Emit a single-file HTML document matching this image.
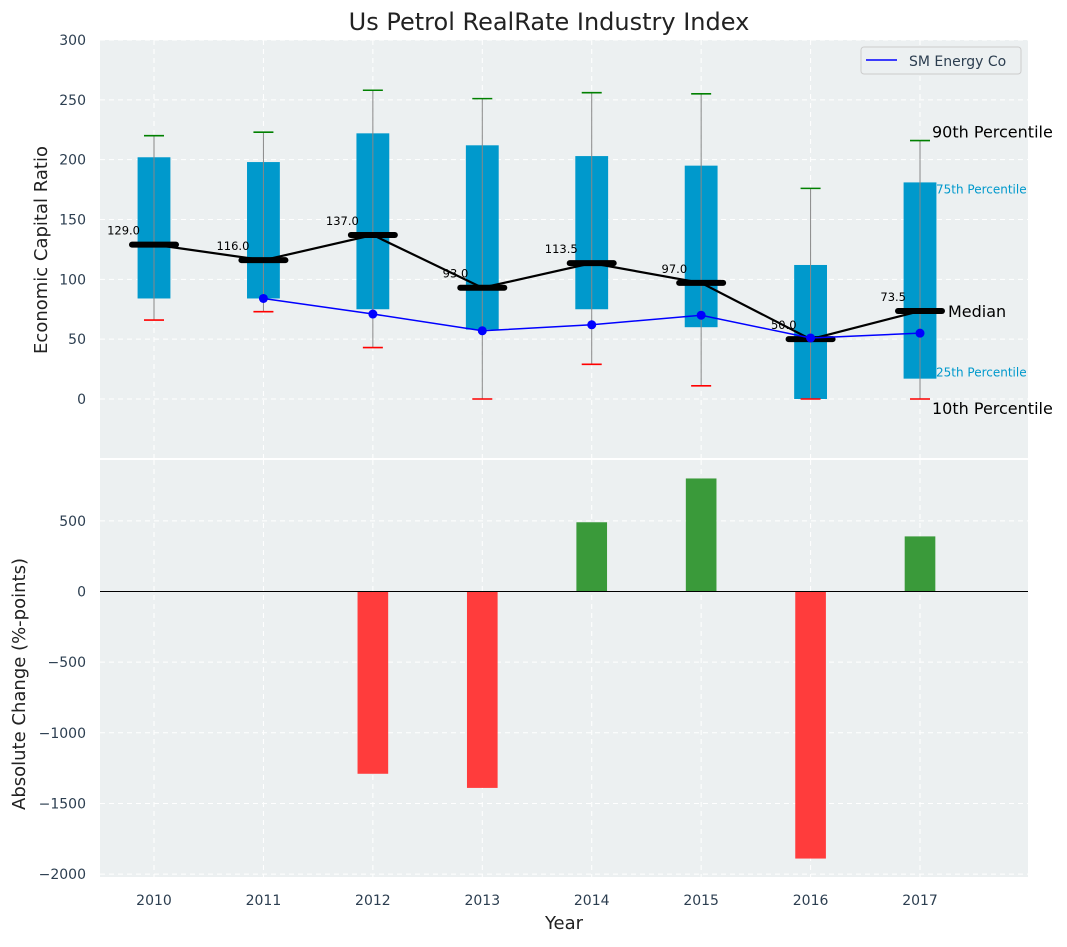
<!DOCTYPE html>
<html><head><meta charset="utf-8"><style>
body{margin:0;background:#fff;font-family:"Liberation Sans","DejaVu Sans",sans-serif;}
svg text{font-family:"DejaVu Sans","Liberation Sans",sans-serif;}
</style></head><body>
<svg id="c" width="1067" height="942" xmlns="http://www.w3.org/2000/svg"></svg>
<script>
const years=['2010','2011','2012','2013','2014','2015','2016','2017'];
const p10=[66,73,43,0,29,11,0,0];
const p25=[84,84,75,58,75,60,0,17];
const p50=[129,116,137,93,113.5,97,50,73.5];
const p75=[202,198,222,212,203,195,112,181];
const p90=[220,223,258,251,256,255,176,216];
const smYears=[1,2,3,4,5,6,7];
const smVals=[84,71,57,62,70,51,55];
const changes=[0,0,-1290,-1390,490,800,-1890,390];
const topTicks=[0,50,100,150,200,250,300];
const botTicks=[-2000,-1500,-1000,-500,0,500];

const svg=document.getElementById('c');const NS='http://www.w3.org/2000/svg';
function el(t,a,txt,parent){const e=document.createElementNS(NS,t);for(const k in a)e.setAttribute(k,a[k]);if(txt!==undefined)e.textContent=txt;(parent||svg).appendChild(e);return e;}
const L=100,R=1028;
const U=109.43;
const X=i=>154+i*U;
const T0=40,T1=458;const YT=v=>399-v*359/300;
const B0=460,B1=877;const YB=v=>591.5-v*0.1413;

let e;
e=el('rect',{x:L,y:T0,width:R-L,height:T1-T0,fill:'#ecf0f1'});
e=el('rect',{x:L,y:B0,width:R-L,height:B1-B0,fill:'#ecf0f1'});
years.forEach((y,i)=>{
  el('line',{x1:X(i),x2:X(i),y1:T0,y2:T1,stroke:'#fff','stroke-dasharray':'5,4','stroke-width':1});
  el('line',{x1:X(i),x2:X(i),y1:B0,y2:B1,stroke:'#fff','stroke-dasharray':'5,4','stroke-width':1});
  e=el('text',{x:X(i),y:905,'text-anchor':'middle','font-size':14,fill:'#2c3e50'},y);
});
topTicks.forEach(v=>{
  el('line',{x1:L,x2:R,y1:YT(v),y2:YT(v),stroke:'#fff','stroke-dasharray':'5,4'});
  e=el('text',{x:86,y:YT(v)+5,'text-anchor':'end','font-size':14,fill:'#2c3e50'},v);
});
botTicks.forEach(v=>{
  el('line',{x1:L,x2:R,y1:YB(v),y2:YB(v),stroke:'#fff','stroke-dasharray':'5,4'});
  e=el('text',{x:86,y:YB(v)+5,'text-anchor':'end','font-size':14,fill:'#2c3e50'},v<0?'\u2212'+(-v):v);
});
const bw=U*0.3;
years.forEach((y,i)=>{
  const x=X(i);
  e=el('rect',{x:x-bw/2,y:YT(p75[i]),width:bw,height:YT(p25[i])-YT(p75[i]),fill:'#0099cc'});
  e=el('line',{x1:x,x2:x,y1:YT(p90[i]),y2:YT(p10[i]),stroke:'#888','stroke-width':1});
  el('line',{x1:x-10,x2:x+10,y1:YT(p90[i]),y2:YT(p90[i]),stroke:'green','stroke-width':1.6});
  el('line',{x1:x-10,x2:x+10,y1:YT(p10[i]),y2:YT(p10[i]),stroke:'red','stroke-width':1.6});
});
e=el('polyline',{points:p50.map((v,i)=>X(i)+','+YT(v)).join(' '),fill:'none',stroke:'#000','stroke-width':2.2});
years.forEach((y,i)=>{
  const x=X(i);
  e=el('line',{x1:x-22,x2:x+22,y1:YT(p50[i]),y2:YT(p50[i]),stroke:'#000','stroke-width':6,'stroke-linecap':'round'});
  e=el('text',{x:x-14,y:YT(p50[i])-10,'text-anchor':'end','font-size':11.5,fill:'#000'},p50[i].toFixed(1));
});
e=el('polyline',{points:smYears.map((j,k)=>X(j)+','+YT(smVals[k])).join(' '),fill:'none',stroke:'blue','stroke-width':1.5});
smYears.forEach((j,k)=>{e=el('circle',{cx:X(j),cy:YT(smVals[k]),r:4.5,fill:'blue'});});
const lx=X(7);
el('text',{x:lx+12,y:YT(p90[7])-3,'font-size':16,fill:'#000'},'90th Percentile');
el('text',{x:lx+16,y:YT(p75[7])+11,'font-size':12,fill:'#0099cc'},'75th Percentile');
el('text',{x:lx+28,y:YT(p50[7])+6,'font-size':16,fill:'#000'},'Median');
el('text',{x:lx+16,y:YT(p25[7])-2,'font-size':12,fill:'#0099cc'},'25th Percentile');
el('text',{x:lx+12,y:YT(p10[7])+15,'font-size':16,fill:'#000'},'10th Percentile');
e=el('rect',{x:861,y:47,width:160,height:27,fill:'#ecf0f1',stroke:'#ccc',rx:3});
el('line',{x1:866,x2:897,y1:60,y2:60,stroke:'blue','stroke-width':1.5});
el('text',{x:909,y:66,'font-size':14,fill:'#2c3e50'},'SM Energy Co');
const barW=U*0.28;
years.forEach((y,i)=>{
  const v=changes[i];if(v===0)return;
  e=el('rect',{x:X(i)-barW/2,y:Math.min(YB(v),YB(0)),width:barW,height:Math.abs(YB(v)-YB(0)),fill:v>0?'#3a9a3a':'#ff3c3c'});
});
el('line',{x1:L,x2:R,y1:YB(0),y2:YB(0),stroke:'#000','stroke-width':1});
e=el('text',{x:549,y:30,'text-anchor':'middle','font-size':24,fill:'#222'},'Us Petrol RealRate Industry Index');
e=el('text',{x:47,y:250,'text-anchor':'middle','font-size':18,fill:'#222',transform:'rotate(-90 47 250)'},'Economic Capital Ratio');
e=el('text',{x:25,y:684,'text-anchor':'middle','font-size':18,fill:'#222',transform:'rotate(-90 25 684)'},'Absolute Change (%-points)');
e=el('text',{x:564,y:929,'text-anchor':'middle','font-size':18,fill:'#222'},'Year');
</script>
</body></html>
